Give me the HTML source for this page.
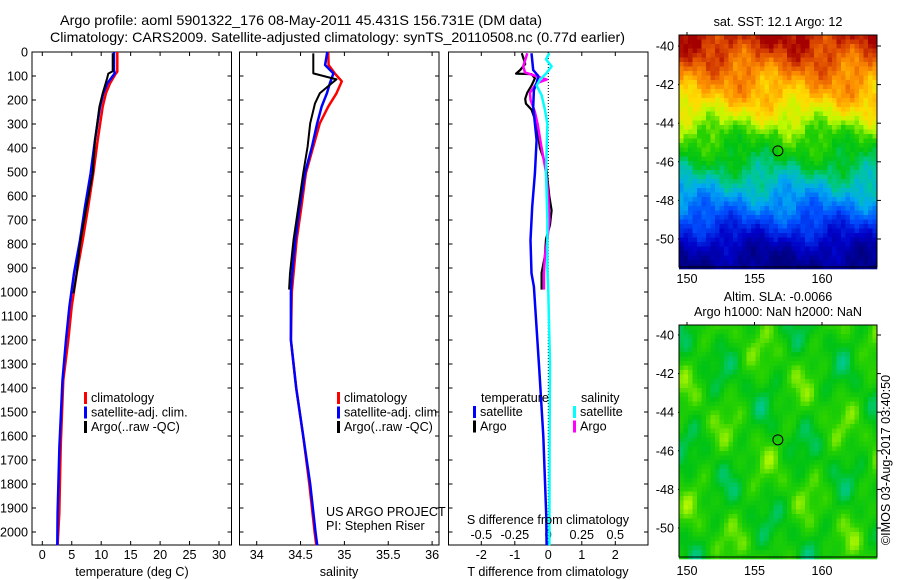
<!DOCTYPE html>
<html><head><meta charset="utf-8"><style>
body{margin:0;background:#fff;}
svg{display:block;font-family:"Liberation Sans",sans-serif;font-size:12.6px;}
</style></head><body>
<svg id="fig" width="900" height="580" viewBox="0 0 900 580">
<text x="60" y="25" font-size="14" textLength="482" lengthAdjust="spacingAndGlyphs">Argo profile: aoml 5901322_176 08-May-2011 45.431S 156.731E (DM data)</text>
<text x="50" y="42" font-size="14" textLength="575" lengthAdjust="spacingAndGlyphs">Climatology: CARS2009. Satellite-adjusted climatology: synTS_20110508.nc (0.77d earlier)</text>
<g id="g1"></g>
<g id="g2"></g>
<g id="g3"></g>
<g id="g4"></g>
<g id="g5"></g>
<text transform="translate(890,460) rotate(-90)" text-anchor="middle" font-size="12.6">©IMOS 03-Aug-2017 03:40:50</text>
</svg>
<script>
// ---- data ----
const tClimDepth=[0,82,89,131,172,228,367,506,645,784,922,1061,1200,1367,1644,1922,2055];
const tClimVal=[12.74,12.74,12.5,11.5,10.8,10.25,9.4,8.66,7.8,6.86,5.84,4.99,4.42,3.57,3.12,2.89,2.6];
const tSatDepth=[0,75,89,131,172,228,367,506,645,784,922,1061,1200,1367,1644,1922,2055];
const tSatVal=[12.17,12.17,12.3,11.04,10.36,9.8,8.95,8.2,7.25,6.4,5.38,4.6,4.02,3.43,2.9,2.6,2.55];
const tArgoDepth=[5,80,90,110,172,228,367,506,645,784,922,1005];
const tArgoVal=[11.95,11.95,11.2,11.0,10.25,9.7,8.95,8.55,7.5,6.5,5.84,5.3];

const sClimDepth=[0,54,89,122,172,228,297,394,506,645,784,1000,1200,1400,1600,1800,2000,2055];
const sClimVal=[34.815,34.82,34.89,34.97,34.91,34.815,34.72,34.645,34.56,34.51,34.455,34.4,34.39,34.45,34.53,34.6,34.66,34.68];
const sSatDepth=[0,54,89,130,172,228,297,394,506,645,784,922,1000,1200,1400,1600,1800,2000,2055];
const sSatVal=[34.805,34.78,34.875,34.835,34.8,34.74,34.69,34.63,34.55,34.49,34.44,34.405,34.39,34.39,34.45,34.53,34.61,34.67,34.69];
const sArgoDepth=[6,89,114,130,172,214,297,394,506,645,784,922,990];
const sArgoVal=[34.645,34.645,34.91,34.855,34.72,34.665,34.61,34.58,34.53,34.475,34.42,34.38,34.37];

const dTSatDepth=[5,75,100,130,158,228,367,506,645,784,922,978,1325,1600,1937,2055];
const dTSatVal=[-0.5,-0.45,-0.3,-0.35,-0.43,-0.45,-0.35,-0.4,-0.48,-0.53,-0.5,-0.43,-0.27,-0.15,-0.06,-0.05];
const dTArgoDepth=[5,50,75,90,92,110,140,170,195,215,240,300,400,472,600,660,720,780,850,920,990];
const dTArgoVal=[-0.79,-0.69,-0.84,-0.96,-0.5,-0.4,-0.5,-0.63,-0.69,-0.67,-0.5,-0.35,-0.25,-0.07,0.03,0.1,0.05,-0.07,-0.1,-0.2,-0.2];
const dSArgoDepth=[5,60,85,115,130,170,200,250,300,400,500,600,700,780,850,920,990];
const dSArgoVal=[-0.157,-0.187,-0.174,-0.012,-0.087,-0.137,-0.132,-0.1,-0.08,-0.05,-0.017,0,0.008,-0.007,-0.025,-0.032,-0.032];
const dSSatDepth=[5,30,60,90,115,140,180,240,300,400,500,700,900,1000,1300,1600,2055];
const dSSatVal=[0.008,-0.017,0.025,-0.017,-0.062,-0.087,-0.05,-0.025,-0.007,-0.012,-0.017,-0.007,-0.007,0,0.013,0.01,0.008];

const depthTicks=[0,100,200,300,400,500,600,700,800,900,1000,1100,1200,1300,1400,1500,1600,1700,1800,1900,2000];
const tTicks=[0,5,10,15,20,25,30];
const sTicks=[34,34.5,35,35.5,36];
const dTTicks=[-2,-1,0,1,2];
const dSTickLabels=["-0.5","-0.25","0","0.25","0.5"];
const dSTicks=[-0.5,-0.25,0,0.25,0.5];
const lonTicks=[150,155,160];
const latTicks=[-40,-42,-44,-46,-48,-50];
const sstByLat=[14.85,14.5,14.1,13.8,13.3,12.7,12.3,11.8,11.3,10.8,10.2,9.6,9.3];
const sstLatStart=-39.5;
const argoLon=156.731, argoLat=-45.431;

// ---- helpers ----
const NS="http://www.w3.org/2000/svg";
function mk(parent,tag,attrs,txt){const e=document.createElementNS(NS,tag);for(const k in attrs)e.setAttribute(k,attrs[k]);if(txt!==undefined)e.textContent=txt;parent.appendChild(e);return e;}
const yTop=52, yBot=545, dPer=0.24;
const yD=d=>yTop+d*dPer;
function frame(g,x0,x1,y0,y1,name){const r=mk(g,'rect',{x:x0,y:y0,width:x1-x0,height:y1-y0,fill:'none',stroke:'#000','stroke-width':1});}
function line(g,ds,vs,xf,color,name,w){const pts=ds.map((d,i)=>xf(vs[i]).toFixed(1)+','+yD(d).toFixed(1)).join(' ');const p=mk(g,'polyline',{points:pts,fill:'none',stroke:color,'stroke-width':w||2.5,'stroke-linejoin':'round'});}
function depthAxis(g,x0,x1,labels){depthTicks.forEach(d=>{const y=yD(d);mk(g,'line',{x1:x0,y1:y,x2:x0+4,y2:y,stroke:'#000'});mk(g,'line',{x1:x1,y1:y,x2:x1-4,y2:y,stroke:'#000'});if(labels){const t=mk(g,'text',{x:x0-4,y:y+4.5,'text-anchor':'end'},String(d));}});}
function xTicks(g,ticks,xf,y0,y1,labelY,lbls){ticks.forEach((v,i)=>{const x=xf(v);mk(g,'line',{x1:x,y1:y0,x2:x,y2:y0+4,stroke:'#000'});mk(g,'line',{x1:x,y1:y1,x2:x,y2:y1-4,stroke:'#000'});if(labelY){const t=mk(g,'text',{x:x,y:labelY,'text-anchor':'middle'},lbls?lbls[i]:String(v));}});}
function legend(g,x,y,items){items.forEach((it,i)=>{mk(g,'rect',{x:x,y:y+i*14.5-10,width:3,height:12,fill:it[1]});const t=mk(g,'text',{x:x+7,y:y+i*14.5},it[0]);});}

// ---- panel 1: temperature ----
const g1=document.getElementById('g1');
const xT=t=>42.3+t*5.89;
frame(g1,32,231.5,yTop,yBot,'temperature-frame');
depthAxis(g1,32,231.5,true);
xTicks(g1,tTicks,xT,yTop,yBot,559);
line(g1,tClimDepth,tClimVal,xT,'#ff0000','temp-climatology-line');
line(g1,tSatDepth,tSatVal,xT,'#0000ff','temp-satellite-line');
line(g1,tArgoDepth,tArgoVal,xT,'#000000','temp-argo-line',2);
legend(g1,84,402,[['climatology','#ff0000'],['satellite-adj. clim.','#0000ff'],['Argo(..raw -QC)','#000']]);
mk(g1,'text',{x:132,y:576,'text-anchor':'middle'},'temperature (deg C)');

// ---- panel 2: salinity ----
const g2=document.getElementById('g2');
const xS=s=>256.7+(s-34)*87.7;
frame(g2,239.5,439,yTop,yBot,'salinity-frame');
depthAxis(g2,239.5,439,false);
xTicks(g2,sTicks,xS,yTop,yBot,559);
line(g2,sClimDepth,sClimVal,xS,'#ff0000','sal-climatology-line');
line(g2,sSatDepth,sSatVal,xS,'#0000ff','sal-satellite-line');
line(g2,sArgoDepth,sArgoVal,xS,'#000000','sal-argo-line',2);
legend(g2,337,402,[['climatology','#ff0000'],['satellite-adj. clim.','#0000ff'],['Argo(..raw -QC)','#000']]);
mk(g2,'text',{x:326,y:516},'US ARGO PROJECT');
mk(g2,'text',{x:326,y:530},'PI: Stephen Riser');
mk(g2,'text',{x:339,y:576,'text-anchor':'middle'},'salinity');

// ---- panel 3: differences ----
const g3=document.getElementById('g3');
const xDT=v=>548.3+v*33.5;
const xDS=v=>548.3+v*134;
frame(g3,448.5,648,yTop,yBot,'difference-frame');
depthAxis(g3,448.5,648,false);
xTicks(g3,dTTicks,xDT,yTop,yBot,559);
dSTicks.forEach((v,i)=>{const t=mk(g3,'text',{x:xDS(v),y:539,'text-anchor':'middle'},dSTickLabels[i]);});
mk(g3,'line',{x1:xDT(0),y1:yTop,x2:xDT(0),y2:yBot,stroke:'#000','stroke-dasharray':'1,2'});
line(g3,dTArgoDepth,dTArgoVal,xDT,'#000000','tdiff-argo-line',2.2);
line(g3,dSArgoDepth,dSArgoVal,xDS,'#ff00ff','sdiff-argo-line');
line(g3,dTSatDepth,dTSatVal,xDT,'#0000ff','tdiff-satellite-line');
line(g3,dSSatDepth,dSSatVal,xDS,'#00ffff','sdiff-satellite-line');
mk(g3,'text',{x:481,y:402},'temperature');
mk(g3,'text',{x:581,y:402},'salinity');
legend(g3,473,416,[['satellite','#0000ff'],['Argo','#000']]);
legend(g3,573,416,[['satellite','#00ffff'],['Argo','#ff00ff']]);
mk(g3,'text',{x:548,y:524,'text-anchor':'middle'},'S difference from climatology');
mk(g3,'text',{x:548,y:576,'text-anchor':'middle'},'T difference from climatology');

// ---- maps ----
const cmStops=[[0,0,0,127],[0.12,0,0,200],[0.25,0,80,255],[0.36,0,170,240],[0.44,0,200,150],[0.52,0,195,20],[0.6,40,210,0],[0.68,190,250,0],[0.76,255,220,0],[0.84,255,150,0],[0.92,225,80,0],[1,165,0,0]];
function cmap(v){v=Math.max(0,Math.min(1,v));for(let i=1;i<cmStops.length;i++){if(v<=cmStops[i][0]){const a=cmStops[i-1],b=cmStops[i],f=(v-a[0])/(b[0]-a[0]);return 'rgb('+[1,2,3].map(k=>Math.round(a[k]+(b[k]-a[k])*f)).join(',')+')';}}return 'rgb(165,0,0)';}
const lonX=l=>687+(l-150)*13.5;
function mapAxes(g,x0,x1,y0,y1,latY,labelY){
  latTicks.forEach(la=>{const y=latY(la);mk(g,'line',{x1:x1,y1:y,x2:x1+4,y2:y,stroke:'#000'});mk(g,'line',{x1:x0,y1:y,x2:x0-1,y2:y,stroke:'#000'});const t=mk(g,'text',{x:x0-5,y:y+4.5,'text-anchor':'end'},String(la));});
  lonTicks.forEach(lo=>{const x=lonX(lo);mk(g,'line',{x1:x,y1:y0,x2:x,y2:y0-3,stroke:'#000'});const t=mk(g,'text',{x:x,y:labelY,'text-anchor':'middle'},String(lo));});
  mk(g,'rect',{x:x0,y:y0,width:x1-x0,height:y1-y0,fill:'none',stroke:'#000'});
  mk(g,'circle',{cx:lonX(argoLon),cy:latY(argoLat),r:5,fill:'none',stroke:'#000'});
}
// SST map
const g4=document.getElementById('g4');
const latY1=la=>46+(-40-la)*19.3;
(function(){const c=4.5;for(let y=35;y<267;y+=c){for(let x=679;x<877;x+=c){
  const lat=-40-(y-46)/19.3, lon=150+(x-687)/13.5;
  let idx=(sstLatStart-lat);idx=Math.max(0,Math.min(sstByLat.length-1.001,idx));const i0=Math.floor(idx),fr=idx-i0;
  let v=sstByLat[i0]*(1-fr)+sstByLat[i0+1]*fr;
  v+=0.22*Math.sin(lon*0.83+lat*1.37+1.1)+0.15*Math.sin(lon*2.31-lat*1.73+0.4)+0.1*Math.sin(lon*4.7+lat*3.9+2.2)+0.08*Math.sin(lon*7.9-lat*6.1+0.7);
  mk(g4,'rect',{x:x,y:y,width:c+0.3,height:c+0.3,fill:cmap((v-9.2)/5.8)});
}}})();
mapAxes(g4,679,877,35,267,latY1,283);
mk(g4,'text',{x:778,y:26,'text-anchor':'middle'},'sat. SST: 12.1 Argo: 12');
// SLA map
const g5=document.getElementById('g5');
const latY2=la=>335+(-40-la)*19.3;
(function(){const c=4.5;for(let y=325;y<557;y+=c){for(let x=679;x<877;x+=c){
  const lat=-40-(y-335)/19.3, lon=150+(x-687)/13.5;
  let v=0.56+0.04*Math.sin(lon*0.7+lat*1.1+0.3)+0.035*Math.sin(lon*1.45-lat*0.95+1.7)+0.025*Math.sin(lon*2.3+lat*1.9+0.9)+0.02*Math.sin(lon*3.1-lat*2.7+2.5);
  mk(g5,'rect',{x:x,y:y,width:c+0.3,height:c+0.3,fill:cmap(v)});
}}})();
mapAxes(g5,679,877,325,557,latY2,575);
mk(g5,'text',{x:778,y:301,'text-anchor':'middle'},'Altim. SLA: -0.0066');
mk(g5,'text',{x:778,y:316,'text-anchor':'middle'},'Argo h1000: NaN h2000: NaN');
</script>
</body></html>
